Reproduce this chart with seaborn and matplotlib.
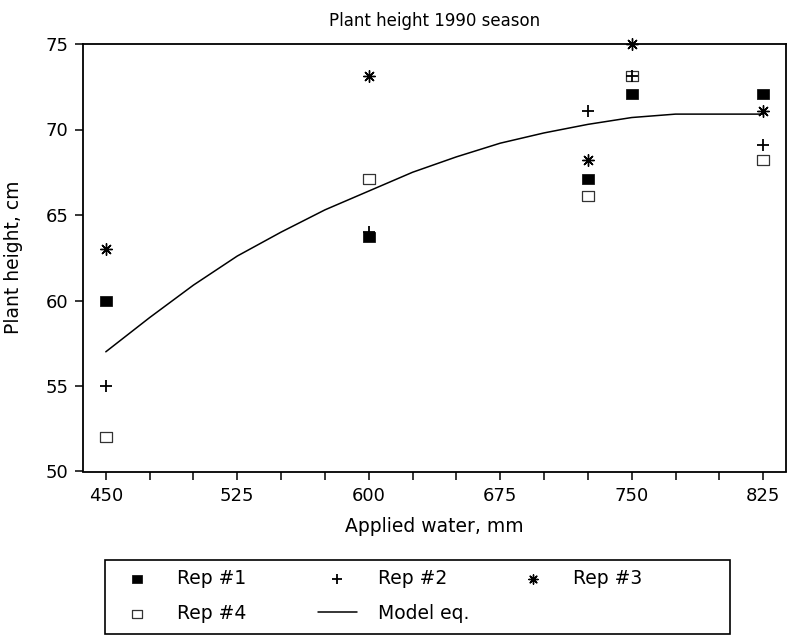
import numpy as np
import pandas as pd
import matplotlib
matplotlib.use("Agg")
import matplotlib.pyplot as plt
from matplotlib.patches import Rectangle
from matplotlib.ticker import MultipleLocator
import seaborn as sns

# Applied water treatments (mm) and plant heights (cm) per replicate
water = [450, 600, 725, 750, 825]
rep1 = [60.0, 63.7, 67.1, 72.1, 72.1]
rep2 = [55.0, 64.0, 71.1, 73.1, 69.1]
rep3 = [63.0, 73.1, 68.2, 75.0, 71.1]
rep4 = [52.0, 67.1, 66.1, 73.1, 68.2]

# Fitted model curve
model_x = [450, 475, 500, 525, 550, 575, 600, 625, 650, 675, 700, 725, 750, 775, 800, 825]
model_y = [57.0, 59.0, 60.9, 62.6, 64.0, 65.3, 66.4, 67.5, 68.4, 69.2, 69.8, 70.3, 70.7, 70.9, 70.9, 70.9]

x_ticks = [450, 525, 600, 675, 750, 825]
y_ticks = [50, 55, 60, 65, 70, 75]

sns.set_theme(style="ticks")
plt.rcParams["font.family"] = ["DejaVu Sans"]
plt.rcParams["axes.edgecolor"] = "black"
plt.rcParams["xtick.color"] = "black"
plt.rcParams["ytick.color"] = "black"
plt.rcParams["text.color"] = "black"
plt.rcParams["axes.labelcolor"] = "black"

reps = pd.DataFrame({"water": water, "Rep #1": rep1, "Rep #2": rep2,
                     "Rep #3": rep3, "Rep #4": rep4})
model = pd.DataFrame({"water": model_x, "height": model_y})

fig = plt.figure(figsize=(7.95, 6.36), dpi=100)
ax = fig.add_axes([83 / 795, 1 - 471.5 / 636, (786 - 83) / 795, (471.5 - 44) / 636])

# slightly wide rectangle marker
rect = [(-1.3, -1.0), (1.3, -1.0), (1.3, 1.0), (-1.3, 1.0), (-1.3, -1.0)]

sns.lineplot(data=model, x="water", y="height", ax=ax, color="black",
             linewidth=1.1, label="Model eq.", legend=False)
sns.scatterplot(data=reps, x="water", y="Rep #4", ax=ax, marker=rect, s=75,
                facecolor="white", edgecolor="#333333", linewidth=0.9,
                label="Rep #4", legend=False, clip_on=False, zorder=3)
sns.scatterplot(data=reps, x="water", y="Rep #1", ax=ax, marker=rect, s=75,
                color="black", edgecolor="black", linewidth=0.5,
                label="Rep #1", legend=False, clip_on=False, zorder=4)
sns.scatterplot(data=reps, x="water", y="Rep #2", ax=ax, marker="+", s=80,
                color="black", linewidth=1.3,
                label="Rep #2", legend=False, clip_on=False, zorder=5)
sns.scatterplot(data=reps, x="water", y="Rep #3", ax=ax, marker=(8, 2, 0), s=70,
                color="black", linewidth=1.0,
                label="Rep #3", legend=False, clip_on=False, zorder=5)

ax.set_xlim(437, 838)
ax.set_ylim(50, 75)
ax.set_xticks(x_ticks)
ax.xaxis.set_minor_locator(MultipleLocator(25))
ax.set_yticks(y_ticks)
ax.tick_params(axis="both", which="both", direction="out", length=5.5,
               width=1.1, labelsize=13, pad=5)
ax.tick_params(axis="x", which="both", pad=6)
for side in ["top", "right", "bottom", "left"]:
    ax.spines[side].set_visible(True)
    ax.spines[side].set_linewidth(1.3)
    ax.spines[side].set_color("black")

ax.set_title("Plant height 1990 season", fontsize=12, pad=13)
ax.set_xlabel("Applied water, mm", fontsize=13.5, labelpad=8)
ax.set_ylabel("Plant height, cm", fontsize=13.5, labelpad=16)

# legend: two blocks inside one frame
handles, labels = ax.get_legend_handles_labels()
hmap = dict(zip(labels, handles))
fs = 13.5
common = dict(frameon=False, fontsize=fs, handlelength=2.1, handletextpad=1.1,
              labelspacing=0.85, borderpad=0.0, borderaxespad=0.0, markerscale=0.8,
              loc="upper left", bbox_transform=fig.transFigure)
leg_a = fig.legend([hmap["Rep #1"], hmap["Rep #4"], hmap["Rep #2"], hmap["Model eq."]],
                   ["Rep #1", "Rep #4", "Rep #2", "Model eq."], ncol=2,
                   columnspacing=3.8, bbox_to_anchor=(117 / 795, 1 - 569 / 636), **common)
leg_b = fig.legend([hmap["Rep #3"]], ["Rep #3"], ncol=1,
                   bbox_to_anchor=(513 / 795, 1 - 569 / 636), **common)
fig.patches.append(Rectangle((105 / 795, 1 - 634 / 636), (730 - 105) / 795, (634 - 560) / 636,
                             transform=fig.transFigure, fill=False,
                             edgecolor="black", linewidth=1.2))

fig.savefig("out.png", dpi=100)
